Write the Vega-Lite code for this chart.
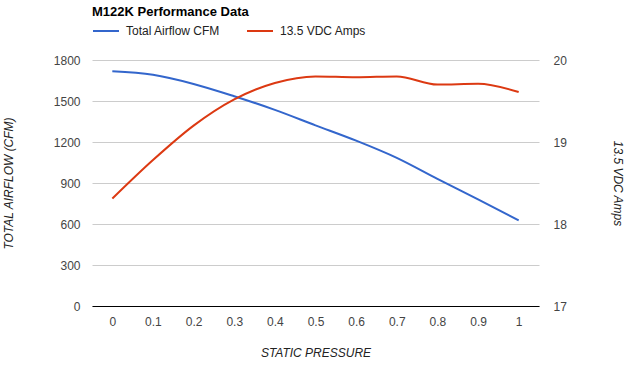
{
  "$schema": "https://vega.github.io/schema/vega-lite/v6.json",
  "width": 447,
  "height": 246,
  "autosize": {"type": "none"},
  "padding": {"left": 92, "top": 60, "right": 98, "bottom": 60},
  "config": {
    "font": "Liberation Sans",
    "view": {"stroke": null},
    "axis": {"labelFontSize": 12, "labelColor": "#444", "titleFontSize": 12, "titleFontWeight": "normal", "titleFontStyle": "italic", "titleColor": "#222", "ticks": false}
  },
  "title": {"text": "M122K Performance Data", "anchor": "start", "frame": "group", "fontSize": 13, "fontWeight": "bold", "color": "#000", "offset": 4, "dy": 6},
  "data": {"values": [
    {"pressure": 0, "cfm": 1718, "amps": 18.31},
    {"pressure": 0.1, "cfm": 1692, "amps": 18.78},
    {"pressure": 0.2, "cfm": 1625, "amps": 19.2},
    {"pressure": 0.3, "cfm": 1535, "amps": 19.52},
    {"pressure": 0.4, "cfm": 1435, "amps": 19.72},
    {"pressure": 0.5, "cfm": 1322, "amps": 19.8},
    {"pressure": 0.6, "cfm": 1210, "amps": 19.79},
    {"pressure": 0.7, "cfm": 1084, "amps": 19.8},
    {"pressure": 0.8, "cfm": 930, "amps": 19.7},
    {"pressure": 0.9, "cfm": 780, "amps": 19.71},
    {"pressure": 1.0, "cfm": 627, "amps": 19.61}
  ]},
  "encoding": {
    "x": {"field": "pressure", "type": "quantitative", "scale": {"domain": [-0.05, 1.05], "nice": false, "zero": false},
      "axis": {"values": [0, 0.1, 0.2, 0.3, 0.4, 0.5, 0.6, 0.7, 0.8, 0.9, 1], "format": "~g", "grid": false, "domainColor": "#000", "labelPadding": 10, "title": "STATIC PRESSURE", "titlePadding": 20}}
  },
  "layer": [
    {
      "mark": {"type": "line", "interpolate": "monotone", "strokeWidth": 2},
      "encoding": {
        "y": {"field": "cfm", "type": "quantitative", "scale": {"domain": [0, 1800], "nice": false},
          "axis": {"orient": "left", "values": [0, 300, 600, 900, 1200, 1500, 1800], "format": "d", "grid": true, "gridColor": "#ccc", "domain": false, "labelPadding": 12, "title": "TOTAL AIRFLOW (CFM)", "titlePadding": 38}},
        "color": {"datum": "Total Airflow CFM", "type": "nominal",
          "scale": {"domain": ["Total Airflow CFM", "13.5 VDC Amps"], "range": ["#3366cc", "#dc3912"]},
          "legend": {"orient": "none", "direction": "horizontal", "legendX": 0, "legendY": -43, "title": null, "symbolType": "stroke", "symbolSize": 676, "symbolStrokeWidth": 2, "labelFontSize": 12, "labelColor": "#222", "labelOffset": 6, "columnPadding": 22}}
      }
    },
    {
      "mark": {"type": "line", "interpolate": "monotone", "strokeWidth": 2},
      "encoding": {
        "y": {"field": "amps", "type": "quantitative", "scale": {"domain": [17, 20], "nice": false, "zero": false},
          "axis": {"orient": "right", "values": [17, 18, 19, 20], "grid": false, "domain": false, "labelPadding": 14, "title": "13.5 VDC Amps", "titlePadding": 44}},
        "color": {"datum": "13.5 VDC Amps", "type": "nominal"}
      }
    }
  ],
  "resolve": {"scale": {"y": "independent"}}
}
